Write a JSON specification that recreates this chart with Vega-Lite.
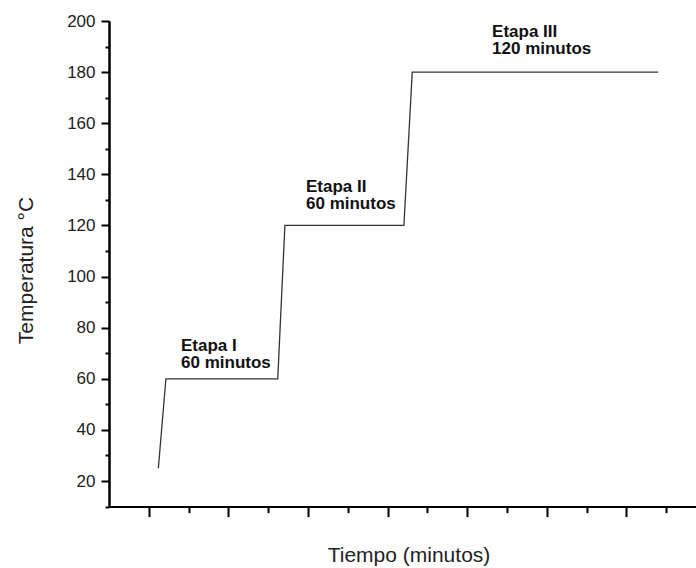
{
  "$schema": "https://vega.github.io/schema/vega-lite/v6.json",
  "width": 587,
  "height": 485.6,
  "autosize": {"type": "none"},
  "padding": {"left": 109, "top": 21, "right": 0, "bottom": 61.4},
  "background": "white",
  "config": {
    "view": {"stroke": null},
    "font": "Liberation Sans",
    "axis": {"grid": false, "domainColor": "#000", "domainWidth": 2, "tickColor": "#000", "tickWidth": 2}
  },
  "datasets": {
    "profile": [
      {"tiempo": 4.8, "temp": 25},
      {"tiempo": 8.6, "temp": 60},
      {"tiempo": 64.8, "temp": 60},
      {"tiempo": 68.4, "temp": 120},
      {"tiempo": 128.2, "temp": 120},
      {"tiempo": 132.4, "temp": 180},
      {"tiempo": 256.0, "temp": 180}
    ],
    "labels": [
      {"tiempo": 16.2, "temp": 70.9, "texto": ["Etapa I", "60 minutos"]},
      {"tiempo": 79.0, "temp": 133.2, "texto": ["Etapa II", "60 minutos"]},
      {"tiempo": 172.5, "temp": 193.8, "texto": ["Etapa III", "120 minutos"]}
    ]
  },
  "resolve": {"axis": {"x": "independent", "y": "independent"}},
  "layer": [
    {
      "data": {"name": "profile"},
      "mark": {"type": "line", "color": "#333", "strokeWidth": 1.3},
      "encoding": {
        "x": {
          "field": "tiempo", "type": "quantitative",
          "scale": {"domain": [-20, 275], "nice": false, "zero": false},
          "axis": {
            "orient": "bottom",
            "title": "Tiempo (minutos)",
            "values": [0, 40, 80, 120, 160, 200, 240],
            "labels": false,
            "tickSize": 10,
            "titleFont": "Liberation Sans",
            "titleFontSize": 21,
            "titleFontWeight": "normal",
            "titleColor": "#222",
            "titleBaseline": "alphabetic",
            "titleX": 299.5,
            "titleY": 55,
            "titleAlign": "center"
          }
        },
        "y": {
          "field": "temp", "type": "quantitative",
          "scale": {"domain": [10, 200], "nice": false, "zero": false},
          "axis": {
            "orient": "left",
            "title": "Temperatura °C",
            "values": [20, 40, 60, 80, 100, 120, 140, 160, 180, 200],
            "tickSize": 8,
            "labelFontSize": 17,
            "labelColor": "#222",
            "labelPadding": 6,
            "labelFont": "Liberation Sans",
            "titleFont": "Liberation Sans",
            "titleFontSize": 21,
            "titleFontWeight": "normal",
            "titleColor": "#222",
            "titleAngle": -90,
            "titleBaseline": "alphabetic",
            "titleAlign": "center",
            "titleX": -77,
            "titleY": 249
          }
        }
      }
    },
    {
      "data": {"name": "labels"},
      "mark": {"type": "text", "align": "left", "baseline": "alphabetic", "fontSize": 17, "fontWeight": "bold", "font": "Liberation Sans", "color": "#111", "lineHeight": 17.3},
      "encoding": {
        "x": {
          "field": "tiempo", "type": "quantitative",
          "axis": {"orient": "bottom", "title": null, "labels": false, "tickSize": 6, "values": [20, 60, 100, 140, 180, 220, 260]}
        },
        "y": {
          "field": "temp", "type": "quantitative",
          "axis": {"orient": "left", "title": null, "labels": false, "tickSize": 4, "values": [10, 30, 50, 70, 90, 110, 130, 150, 170, 190]}
        },
        "text": {"field": "texto"}
      }
    }
  ]
}
